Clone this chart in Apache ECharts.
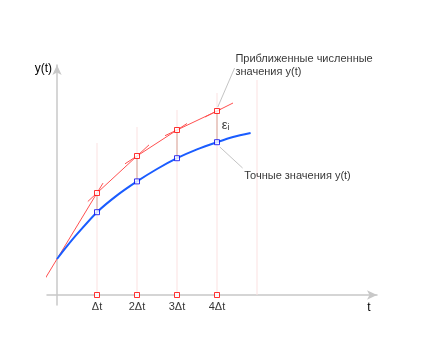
<!DOCTYPE html>
<html><head><meta charset="utf-8">
<script src="https://cdn.jsdelivr.net/npm/echarts@6/dist/echarts.min.js"></script>
<style>html,body{margin:0;padding:0;background:#fff}#c{width:434px;height:357px}</style>
</head><body><div id="c"></div>
<script>
// Data (t in units of Δt, y in arbitrary units)
const stepT = [0, 1, 2, 3, 4];
const eulerY = [0.9, 2.55, 3.475, 4.125, 4.6];       // approximate numerical values
const eulerTail = [4.4, 4.8];                          // end of last Euler step line
const exactT = [0, 0.25, 0.5, 1, 1.5, 2, 2.5, 3, 3.5, 4, 4.4, 4.84];
const exactY = [0.9, 1.22, 1.52, 2.07, 2.49, 2.84, 3.15, 3.42, 3.64, 3.82, 3.95, 4.05];
const gridT = [1, 2, 3, 4, 5];
const gridTop = [3.8, 4.2, 4.625, 5.05, 5.375];
const tickT = [1, 2, 3, 4];
const tickLabels = ['Δt', '2Δt', '3Δt', '4Δt'];
const exactPointY = [2.07, 2.84, 3.42, 3.82];
const segBack = [0.33, 0.23, 0.3, 0.3, 0.3];
const segFwd = [0.15, 0.3, 0.25, 0.1];

const font = 'Liberation Sans';
const fs = 11;
const series = [];

// pale vertical guide lines
gridT.forEach((t, i) => series.push({
  type: 'line', data: [[t, 0], [t, gridTop[i]]], symbol: 'none', silent: true,
  lineStyle: { color: '#fbe1e1', width: 1 }, z: 1
}));
// error segments
tickT.forEach((t, i) => series.push({
  type: 'line', data: [[t, eulerY[i + 1]], [t, exactPointY[i]]], symbol: 'none', silent: true,
  lineStyle: { color: '#d8a89c', width: 1 }, z: 2
}));
// Euler step lines, extended a little beyond each node
for (let i = 0; i < stepT.length - 1; i++) {
  const t0 = stepT[i], t1 = stepT[i + 1], y0 = eulerY[i], y1 = eulerY[i + 1];
  const k = (y1 - y0) / (t1 - t0);
  const a = t0 - segBack[i], b = t1 + segFwd[i];
  series.push({
    type: 'line', data: [[a, y0 + k * (a - t0)], [b, y0 + k * (b - t0)]], symbol: 'none', silent: true,
    lineStyle: { color: '#ff5050', width: 1 }, z: 3
  });
}
{
  const t0 = stepT[4], y0 = eulerY[4];
  const k = (eulerTail[1] - y0) / (eulerTail[0] - t0);
  const a = t0 - segBack[4];
  series.push({
    type: 'line', data: [[a, y0 + k * (a - t0)], eulerTail], symbol: 'none', silent: true,
    lineStyle: { color: '#ff5050', width: 1 }, z: 3
  });
}
// exact curve
series.push({
  type: 'line', data: exactT.map((t, i) => [t, exactY[i]]), smooth: 0.3, symbol: 'none', silent: true,
  lineStyle: { color: '#1a5cff', width: 2 }, z: 4
});
// leader lines
series.push({ type: 'line', data: [[4.02, 4.7], [4.44, 5.675]], symbol: 'none', silent: true,
  lineStyle: { color: '#c4c4c4', width: 1 }, z: 2 });
series.push({ type: 'line', data: [[4.07, 3.7], [4.64, 3.175]], symbol: 'none', silent: true,
  lineStyle: { color: '#c4c4c4', width: 1 }, z: 2 });
// numerical points
series.push({
  type: 'scatter', data: stepT.slice(1).map((t, i) => [t, eulerY[i + 1]]), symbol: 'rect', symbolSize: 5,
  itemStyle: { color: '#fff', borderColor: '#ff0000', borderWidth: 1 }, z: 6, silent: true
});
// exact points
series.push({
  type: 'scatter', data: tickT.map((t, i) => [t, exactPointY[i]]), symbol: 'rect', symbolSize: 5,
  itemStyle: { color: '#fff', borderColor: '#0000ee', borderWidth: 1 }, z: 6, silent: true
});
// tick marks with labels on the t axis
series.push({
  type: 'scatter', data: tickT.map((t, i) => ({ value: [t, 0], label: { formatter: tickLabels[i] } })),
  symbol: 'rect', symbolSize: 5, silent: true,
  itemStyle: { color: '#fff', borderColor: '#ff0000', borderWidth: 1 }, z: 6,
  label: { show: true, position: 'bottom', distance: 3, color: '#000', fontFamily: font, fontSize: fs }
});
// annotations
series.push({
  type: 'scatter', symbolSize: 0, silent: true, z: 7,
  data: [
    { value: [4.46, 5.73], label: { formatter: 'Приближенные численные\nзначения y(t)', position: 'right', distance: 0, align: 'left', verticalAlign: 'middle', lineHeight: 13 } },
    { value: [4.68, 2.98], label: { formatter: 'Точные значения y(t)', position: 'right', distance: 0, align: 'left', verticalAlign: 'middle' } },
    { value: [4.12, 4.25], label: { formatter: '{e|ε}{s|i}', position: 'right', distance: 0, align: 'left', verticalAlign: 'middle',
        rich: { e: { fontSize: 13, fontFamily: font, color: '#000' }, s: { fontSize: 9, fontFamily: font, color: '#000', padding: [6, 0, 0, 0] } } } }
  ],
  label: { show: true, color: '#000', fontFamily: font, fontSize: fs }
});

const chart = echarts.init(document.getElementById('c'), null, { renderer: 'canvas' });
chart.setOption({
  animation: false,
  backgroundColor: '#fff',
  grid: { left: 47, right: 57, top: 65, bottom: 52, containLabel: false },
  xAxis: {
    type: 'value', min: -0.25, max: 8, splitLine: { show: false }, axisTick: { show: false }, axisLabel: { show: false },
    axisLine: { onZero: true, lineStyle: { color: '#c8c8c8', width: 1.5 }, symbol: ['none', 'arrow'], symbolSize: [7, 10], symbolOffset: [0, 0] },
    name: 't', nameLocation: 'end', nameGap: -8,
    nameTextStyle: { color: '#000', fontFamily: font, fontSize: 12, align: 'center', verticalAlign: 'top', padding: [7, 0, 0, 0] }
  },
  yAxis: {
    type: 'value', min: -0.25, max: 5.75, splitLine: { show: false }, axisTick: { show: false }, axisLabel: { show: false },
    axisLine: { onZero: true, lineStyle: { color: '#c8c8c8', width: 1.5 }, symbol: ['none', 'arrow'], symbolSize: [7, 10] },
    name: 'y(t)', nameLocation: 'end', nameGap: -4,
    nameTextStyle: { color: '#000', fontFamily: font, fontSize: 12, align: 'right', verticalAlign: 'middle', padding: [0, 5, 0, 0] }
  },
  series: series
});
</script></body></html>
